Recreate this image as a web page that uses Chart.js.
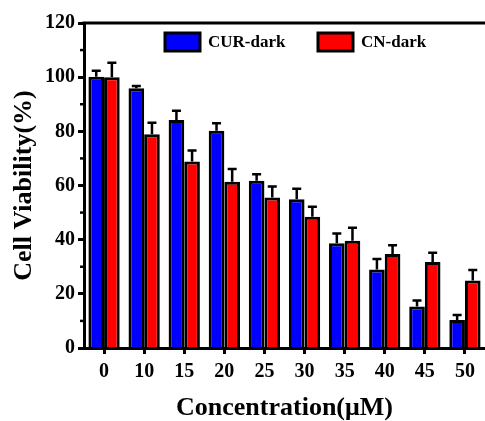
<!DOCTYPE html>
<html>
<head>
<meta charset="utf-8">
<script src="https://cdn.jsdelivr.net/npm/chart.js@4.4.1/dist/chart.umd.min.js"></script>
<style>
  html, body { margin: 0; padding: 0; background: #fff; }
</style>
</head>
<body>
<canvas id="viabilityChart" width="485" height="421"></canvas>
<script>
// ─── Data ──────────────────────────────────────────
const concentrations = ['0', '10', '15', '20', '25', '30', '35', '40', '45', '50'];
const curDark    = [100.2, 95.9, 84.2, 80.2, 61.8, 54.9, 38.7, 29.0, 15.3, 10.3];
const curDarkErr = [2.2, 0.8, 3.4, 2.8, 2.4, 3.9, 3.6, 3.9, 2.2, 1.9];
const cnDark     = [100.0, 78.9, 68.9, 61.4, 55.6, 48.5, 39.6, 34.7, 31.8, 24.9];
const cnDarkErr  = [5.3, 4.3, 4.0, 4.7, 4.0, 3.7, 4.8, 3.2, 3.4, 3.9];
const minorTicks = [10, 30, 50, 70, 90, 110];

const SERIF = "'Liberation Serif', 'Times New Roman', serif";

// error bars (up only, with cap)
const errorBars = {
  id: 'errorBars',
  afterDatasetsDraw(chart) {
    const ctx = chart.ctx;
    const y = chart.scales.y;
    ctx.save();
    ctx.strokeStyle = '#000';
    ctx.lineWidth = 2.5;
    chart.data.datasets.forEach((ds, di) => {
      const meta = chart.getDatasetMeta(di);
      meta.data.forEach((bar, i) => {
        const top = y.getPixelForValue(ds.data[i] + ds.errors[i]);
        ctx.beginPath();
        ctx.moveTo(bar.x, bar.y);
        ctx.lineTo(bar.x, top);
        ctx.moveTo(bar.x - 4.5, top);
        ctx.lineTo(bar.x + 4.5, top);
        ctx.stroke();
      });
    });
    ctx.restore();
  },
};

// top frame, minor ticks and legend
const frame = {
  id: 'frame',
  afterDraw(chart) {
    const ctx = chart.ctx;
    const area = chart.chartArea;
    const y = chart.scales.y;
    ctx.save();
    ctx.strokeStyle = '#000';
    ctx.lineWidth = 3;
    ctx.beginPath();
    ctx.moveTo(area.left - 1.5, area.top);
    ctx.lineTo(chart.width, area.top);
    ctx.stroke();

    ctx.lineWidth = 2.5;
    minorTicks.forEach(v => {
      const py = y.getPixelForValue(v);
      ctx.beginPath();
      ctx.moveTo(area.left - 4, py);
      ctx.lineTo(area.left, py);
      ctx.stroke();
    });

    // legend
    const items = [{ x: 165, tx: 208 }, { x: 318, tx: 361 }];
    ctx.font = 'bold 17px ' + SERIF;
    ctx.textBaseline = 'middle';
    ctx.textAlign = 'left';
    chart.data.datasets.forEach((ds, i) => {
      const it = items[i];
      ctx.fillStyle = ds.backgroundColor;
      ctx.fillRect(it.x, 33, 35, 18);
      ctx.lineWidth = 3;
      ctx.strokeRect(it.x, 33, 35, 18);
      ctx.fillStyle = '#000';
      ctx.fillText(ds.label, it.tx, 43);
    });
    ctx.restore();
  },
};

new Chart(document.getElementById('viabilityChart'), {
  type: 'bar',
  data: {
    labels: concentrations,
    datasets: [
      { label: 'CUR-dark', data: curDark, errors: curDarkErr,
        backgroundColor: '#0000ff', borderColor: '#000', borderWidth: 3 },
      { label: 'CN-dark', data: cnDark, errors: cnDarkErr,
        backgroundColor: '#ff0000', borderColor: '#000', borderWidth: 3 },
    ],
  },
  options: {
    responsive: false,
    animation: false,
    devicePixelRatio: 1,
    layout: { padding: { top: 23, right: 0, left: 0, bottom: 0 } },
    datasets: { bar: { categoryPercentage: 0.78, barPercentage: 1 } },
    plugins: { legend: { display: false }, tooltip: { enabled: false } },
    scales: {
      x: {
        grid: { offset: false, drawOnChartArea: false, tickLength: 6, tickWidth: 3, tickColor: '#000' },
        border: { color: '#000', width: 3 },
        ticks: { color: '#000', padding: 6, maxRotation: 0,
          font: { family: SERIF, weight: 'bold', size: 20 } },
        title: { display: true, text: 'Concentration(μM)', color: '#000',
          padding: { top: 0, bottom: 0 },
          font: { family: SERIF, weight: 'bold', size: 26, lineHeight: 1.0 } },
        afterFit(s) { s.height = 73; },
      },
      y: {
        min: 0, max: 120,
        grid: { drawOnChartArea: false, tickLength: 6, tickWidth: 3, tickColor: '#000' },
        border: { color: '#000', width: 3 },
        ticks: { stepSize: 20, color: '#000', padding: 3,
          font: { family: SERIF, weight: 'bold', size: 20 } },
        title: { display: true, text: 'Cell Viability(%)', color: '#000',
          padding: { top: 9, bottom: 0 },
          font: { family: SERIF, weight: 'bold', size: 26 } },
        afterFit(s) { s.width = 84; },
      },
    },
  },
  plugins: [errorBars, frame],
});
</script>
</body>
</html>
